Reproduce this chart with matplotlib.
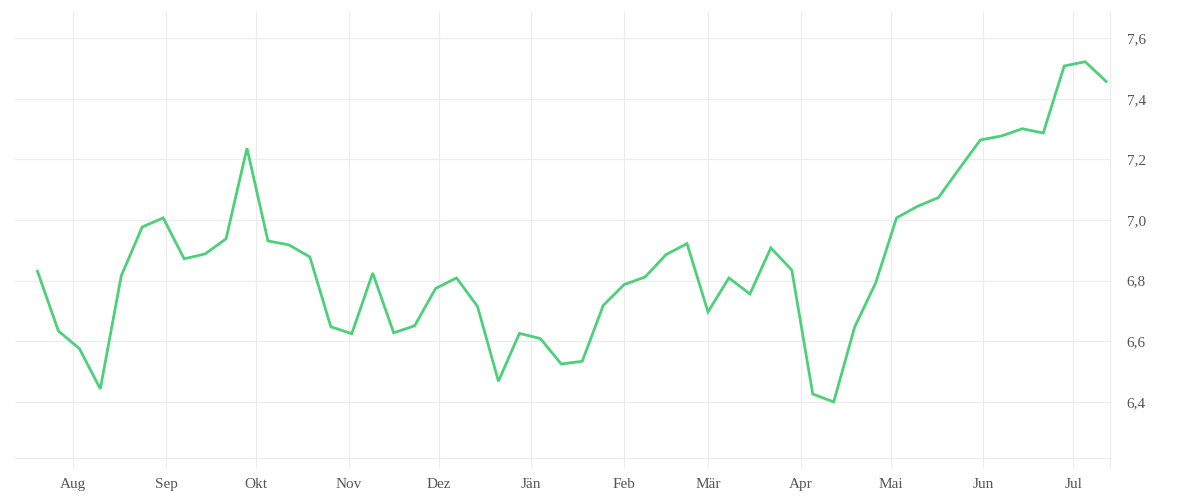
import matplotlib
matplotlib.use("Agg")
import matplotlib.pyplot as plt
import matplotlib.dates as mdates
from matplotlib.ticker import FuncFormatter, FixedLocator
import pandas as pd

# weekly values
start_date = "2022-07-20"
values = [6.831, 6.634, 6.576, 6.443, 6.816, 6.977, 7.007, 6.872, 6.888, 6.938,
          7.237, 6.931, 6.918, 6.878, 6.648, 6.625, 6.825, 6.628, 6.651, 6.774,
          6.809, 6.715, 6.468, 6.626, 6.609, 6.525, 6.534, 6.718, 6.787, 6.812,
          6.886, 6.922, 6.697, 6.809, 6.756, 6.908, 6.835, 6.426, 6.400, 6.647,
          6.792, 7.007, 7.045, 7.074, 7.170, 7.264, 7.277, 7.301, 7.287, 7.508,
          7.522, 7.457]
dates = pd.date_range(start_date, periods=len(values), freq="7D")

month_starts = ["2022-08-01", "2022-09-01", "2022-10-01", "2022-11-01", "2022-12-01",
                "2023-01-01", "2023-02-01", "2023-03-01", "2023-04-01", "2023-05-01",
                "2023-06-01", "2023-07-01"]
month_labels = ["Aug", "Sep", "Okt", "Nov", "Dez", "Jän", "Feb", "Mär", "Apr", "Mai", "Jun", "Jul"]
y_ticks = [6.4, 6.6, 6.8, 7.0, 7.2, 7.4, 7.6]

line_col = "#4cd07a"
grid_col = "#ececec"
text_col = "#555555"

plt.rcParams["font.family"] = ["Liberation Serif", "DejaVu Serif"]

fig = plt.figure(figsize=(12, 5), dpi=100)
ax = fig.add_axes([0.0125, 0.084, 0.9125, 0.892])

ax.plot(dates, values, color=line_col, linewidth=2.0, solid_joinstyle="miter", zorder=3)

left = pd.Timestamp("2022-07-12") + pd.Timedelta(days=0.5)
right = dates[-1] + pd.Timedelta(days=1.3)
ax.set_xlim(left, right)
ax.set_ylim(6.215, 7.686)

ticks = [mdates.date2num(pd.Timestamp(d)) for d in month_starts]
ax.xaxis.set_major_locator(FixedLocator(ticks))
ax.set_xticklabels(month_labels)
ax.xaxis.set_minor_locator(FixedLocator([mdates.date2num(right)]))
# right edge line, same look as the month lines
ax.axvline(right, color=grid_col, linewidth=0.8, clip_on=False, zorder=1)

ax.set_yticks(y_ticks)
ax.yaxis.set_major_formatter(FuncFormatter(lambda v, p: ("%.1f" % v).replace(".", ",")))
ax.yaxis.tick_right()

ax.grid(True, which="major", color=grid_col, linewidth=0.8)
ax.set_axisbelow(True)
for s in ["top", "left", "right"]:
    ax.spines[s].set_visible(False)
ax.spines["bottom"].set_color(grid_col)
ax.spines["bottom"].set_linewidth(0.8)

ax.tick_params(axis="x", which="both", length=7.2, width=0.8, color=grid_col,
               labelcolor=text_col, labelsize=11, pad=7)
ax.tick_params(axis="y", length=0, pad=12, labelcolor=text_col, labelsize=11)

fig.savefig("out.png", dpi=100)
